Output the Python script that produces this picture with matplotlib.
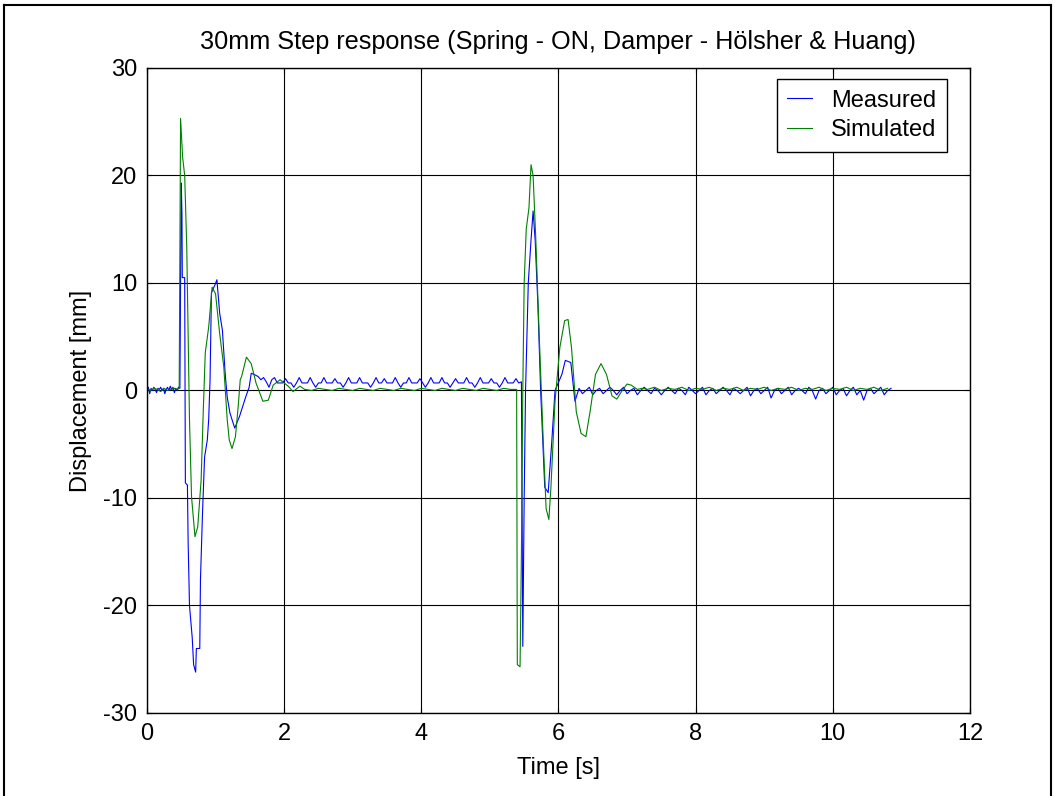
import numpy as np
import matplotlib.pyplot as plt
from matplotlib.lines import Line2D

plt.rcParams['font.family'] = ['Liberation Sans', 'DejaVu Sans']
plt.rcParams['axes.unicode_minus'] = False

# ---- Measured displacement [mm] ----
# quiet start, sampled every 0.02 s from 0.00 s
meas_start = [0.0, 0.3, -0.3, 0.2, 0.0, 0.3, 0.1, -0.2, 0.2, 0.1, 0.3, 0.0,
              0.2, -0.3, 0.1, 0.3, 0.0, 0.4, 0.1, 0.3, -0.2, 0.2, 0.0, 0.3, 0.2]
# first step transient
meas_t1 = [0.50, 0.51, 0.515, 0.55, 0.56, 0.59, 0.60, 0.62, 0.66, 0.68,
           0.71, 0.72, 0.77, 0.78, 0.81, 0.84, 0.88, 0.90, 0.92, 0.94,
           0.99, 1.02, 1.06, 1.10, 1.14, 1.17, 1.21, 1.28, 1.35, 1.44,
           1.49, 1.52, 1.56]
meas_d1 = [19.3, 16.5, 10.5, 10.5, -8.6, -8.8, -14.0, -20.0, -23.0, -25.5,
           -26.2, -24.0, -24.0, -17.6, -11.4, -6.2, -4.6, -2.7, 1.0, 9.1,
           9.8, 10.3, 7.2, 5.6, 1.6, -0.6, -2.1, -3.5, -2.4, -0.6,
           0.3, 1.6, 1.5]
# settled between the steps, sampled every 0.04 s from 1.62 s
meas_mid = [1.3, 1.0, 1.2, 0.8, 0.3, 1.0, 1.2, 0.7, 0.7, 0.7, 1.1, 0.7,
            0.7, 0.3, 0.7, 1.2, 0.7, 0.7, 0.7, 1.2, 0.7, 0.3, 0.7, 0.7,
            1.2, 0.7, 0.7, 0.7, 1.1, 0.7, 0.7, 0.3, 0.7, 1.2, 0.7, 0.7,
            0.7, 1.2, 0.7, 0.7, 0.7, 0.3, 0.7, 1.2, 0.7, 0.7, 1.1, 0.7,
            0.7, 0.7, 1.2, 0.7, 0.3, 0.7, 0.7, 1.2, 0.7, 0.7, 0.7, 1.1,
            0.7, 0.3, 0.7, 1.2, 0.7, 0.7, 0.7, 1.2, 0.7, 0.7, 0.3, 0.7,
            1.1, 0.7, 0.7, 0.7, 1.2, 0.7, 0.7, 0.3, 0.7, 1.2, 0.7, 0.7,
            0.7, 1.1, 0.7, 0.7, 0.3, 0.7, 1.2, 0.7, 0.7, 0.7, 1.1, 0.7]
# second step transient
meas_t2 = [5.46, 5.48, 5.50, 5.52, 5.56, 5.60, 5.63, 5.66, 5.70, 5.74,
           5.80, 5.85, 5.90, 5.95, 6.05, 6.10, 6.18, 6.24]
meas_d2 = [0.8, -23.8, -10.0, 0.0, 10.0, 14.0, 16.7, 14.0, 8.0, 0.0,
           -9.0, -9.5, -5.0, 0.0, 1.5, 2.8, 2.6, -1.0]
# settled after the second step, sampled every 0.05 s from 6.30 s
meas_end = [0.2, -0.3, 0.0, 0.3, -0.4, 0.0, 0.2, -0.3, 0.0, 0.3, 0.0, -0.4,
            0.0, 0.3, -0.3, 0.0, 0.2, -0.4, 0.0, 0.3, 0.0, -0.3, 0.2, 0.0,
            -0.4, 0.0, 0.3, 0.0, -0.3, 0.2, 0.0, -0.4, 0.3, 0.0, -0.3, 0.0,
            0.3, -0.4, 0.0, 0.2, -0.3, 0.0, 0.3, 0.0, -0.4, 0.2, 0.0, -0.3,
            0.0, 0.3, -0.5, 0.0, 0.2, -0.3, 0.0, 0.3, -0.7, 0.0, 0.2, -0.3,
            0.0, 0.3, -0.4, 0.0, 0.2, 0.0, -0.3, 0.3, 0.0, -0.8, 0.0, 0.2,
            -0.3, 0.0, 0.3, -0.4, 0.0, 0.2, -0.5, 0.0, 0.3, -0.4, 0.0, -0.9,
            0.0, 0.2, -0.3, 0.0, 0.3, -0.4, 0.0, 0.2]

# ---- Simulated displacement [mm] ----
sim_t1 = [0.00, 0.05, 0.10, 0.15, 0.20, 0.25, 0.30, 0.35, 0.40, 0.44,
          0.47, 0.49, 0.52, 0.55, 0.58, 0.60, 0.62, 0.65, 0.70, 0.74,
          0.79, 0.82, 0.85, 0.90, 0.95, 1.00, 1.06, 1.12, 1.17, 1.20,
          1.24, 1.29, 1.33, 1.36, 1.38, 1.45, 1.52, 1.59, 1.69, 1.77,
          1.84, 1.94, 2.06, 2.13, 2.23]
sim_d1 = [0.2, 0.0, 0.2, 0.1, -0.1, 0.2, 0.0, 0.1, 0.2, 0.1,
          0.2, 25.3, 21.7, 20.0, 13.4, 5.3, -2.7, -9.9, -13.6, -12.7,
          -8.3, -2.1, 3.5, 5.9, 9.6, 9.0, 5.3, 2.2, -2.7, -4.6,
          -5.4, -4.3, -1.5, 1.0, 1.3, 3.1, 2.5, 0.7, -1.0, -0.9,
          0.5, 1.0, 0.4, -0.1, 0.4]
# settled between the steps, sampled every 0.1 s from 2.30 s
sim_mid = [0.1, 0.0, 0.2, 0.1, 0.0, 0.2, 0.1, 0.0, 0.2, 0.1, 0.0,
           0.2, 0.1, 0.0, 0.2, 0.1, 0.0, 0.2, 0.1, 0.0, 0.2, 0.1,
           0.0, 0.2, 0.1, 0.0, 0.2, 0.1, 0.0, 0.2, 0.1]
sim_t2 = [5.39, 5.40, 5.44, 5.46, 5.48, 5.50, 5.53, 5.57, 5.60, 5.63,
          5.67, 5.72, 5.78, 5.82, 5.86, 5.89, 5.95, 6.02, 6.09, 6.14,
          6.19, 6.26, 6.33, 6.40, 6.46, 6.54, 6.62, 6.70, 6.78, 6.85,
          6.93, 7.00, 7.06, 7.15, 7.22]
sim_d2 = [0.1, -25.5, -25.7, -15.0, 0.0, 10.0, 15.0, 17.0, 21.0, 20.0,
          14.0, 5.0, -5.0, -11.0, -12.0, -9.0, -1.0, 4.0, 6.5, 6.6,
          4.0, -2.0, -4.0, -4.3, -2.0, 1.5, 2.5, 1.5, -0.5, -0.8,
          0.0, 0.6, 0.5, 0.1, 0.2]
# settled after the second step, sampled every 0.1 s from 7.30 s
sim_end = [0.1, 0.3, 0.0, 0.2, 0.1, 0.3, 0.0, 0.2, 0.1, 0.3, 0.0, 0.2,
           0.1, 0.3, 0.0, 0.2, 0.1, 0.3, 0.0, 0.2, 0.1, 0.3, 0.0, 0.2,
           0.1, 0.3, 0.0, 0.2, 0.1, 0.3, 0.0, 0.2, 0.1, 0.3, 0.0, 0.2]

# sample instants of the uniformly sampled stretches
t_meas = np.concatenate([0.00 + 0.02 * np.arange(len(meas_start)), meas_t1,
                         1.62 + 0.04 * np.arange(len(meas_mid)), meas_t2,
                         6.30 + 0.05 * np.arange(len(meas_end))])
d_meas = np.concatenate([meas_start, meas_d1, meas_mid, meas_d2, meas_end])
t_sim = np.concatenate([sim_t1, 2.30 + 0.1 * np.arange(len(sim_mid)), sim_t2,
                        7.30 + 0.1 * np.arange(len(sim_end))])
d_sim = np.concatenate([sim_d1, sim_mid, sim_d2, sim_end])

fig = plt.figure(figsize=(10.55, 7.96), dpi=100)
ax = fig.add_axes([0.1393, 0.1043, 0.7801, 0.8103])

ax.plot(t_meas, d_meas, color='#0000ff', lw=0.8, label='Measured')
ax.plot(t_sim, d_sim, color='#008000', lw=0.8, label='Simulated')

ax.set_xlim(0, 12)
ax.set_ylim(-30, 30)
ax.set_xticks(range(0, 13, 2))
ax.set_yticks(range(-30, 31, 10))
ax.grid(True, color='black', lw=0.8, ls='-')
ax.tick_params(direction='in', top=True, right=True, labelsize=17, pad=7)
for s in ax.spines.values():
    s.set_linewidth(1.0)

ax.set_title('30mm Step response (Spring - ON, Damper - Hölsher & Huang)',
             fontsize=18.2, pad=14)
ax.set_xlabel('Time [s]', fontsize=17, labelpad=9)
ax.set_ylabel('Displacement [mm]', fontsize=17, labelpad=8)

leg = ax.legend(loc='upper right', bbox_to_anchor=(0.972, 0.983),
                borderaxespad=0, fontsize=17, fancybox=False, framealpha=1,
                edgecolor='black', handlelength=1.05, handletextpad=0.8,
                borderpad=0.45, labelspacing=0.32)
leg.get_frame().set_linewidth(1.0)

# outer figure frame
for xs, ys in [([0.004, 0.004], [-0.1, 0.994]),
               ([0.004, 0.996], [0.994, 0.994]),
               ([0.996, 0.996], [-0.1, 0.994])]:
    fig.add_artist(Line2D(xs, ys, color='black', lw=1.5,
                          transform=fig.transFigure))

fig.savefig('out.png', dpi=100)
